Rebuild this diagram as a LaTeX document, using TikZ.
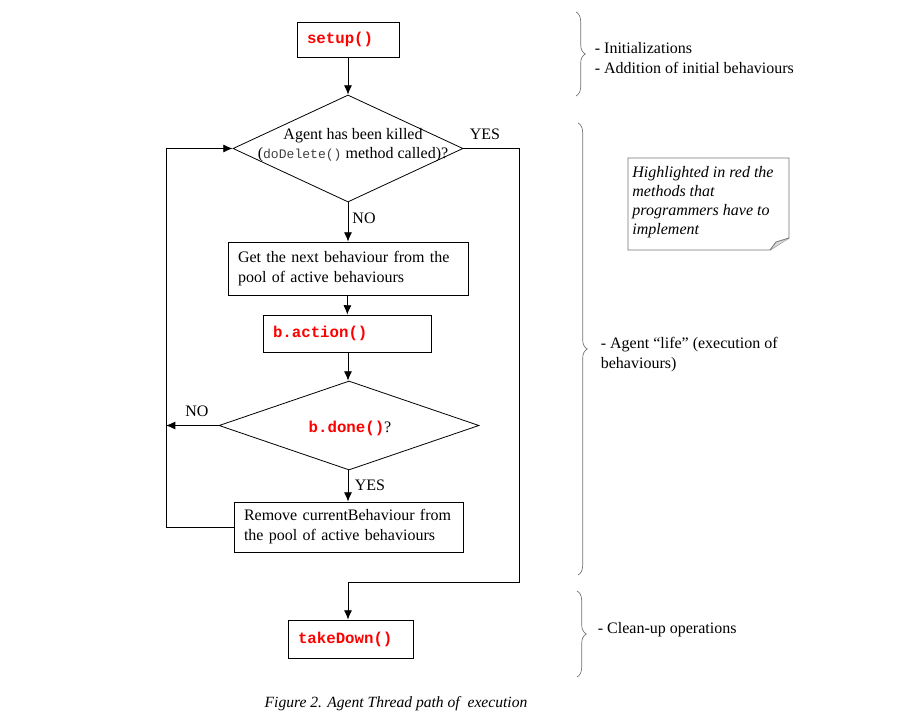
\documentclass[tikz,border=0pt]{standalone}
\usepackage{fontspec}
\setmainfont{Liberation Serif}
\setmonofont{Liberation Mono}
\usepackage{xcolor}
\usetikzlibrary{shapes.geometric,decorations.pathreplacing,arrows.meta}

\newcommand{\meth}[1]{{\fontsize{11.8}{15}\selectfont\ttfamily\bfseries\color{red}#1}}

\begin{document}
\begin{tikzpicture}[
  x=0.75pt, y=-0.75pt,
  line width=0.6pt,
  every node/.style={font=\fontsize{12}{15}\selectfont},
  box/.style={draw,rectangle,inner xsep=7.5pt,inner ysep=0pt,align=left},
  decision/.style={draw,diamond,inner sep=0pt},
  edge/.style={-{Latex[length=7pt,width=6pt]}},
  brace/.style={draw=black!55,line width=0.5pt,decorate,decoration={brace,amplitude=7pt}},
  side/.style={anchor=west,align=left}
]
\useasboundingbox (0,0) rectangle (900,724);

% flow chart
\node[box,text width=61.5pt,minimum height=26.25pt] (setup) at (348,39.5) {\meth{setup()}};
\node[decision,minimum width=172.5pt,minimum height=80.25pt] (kill) at (348,148.5) {};
\node[align=center] (killtxt) at (353,145) {Agent has been killed\\[-1pt]
  ({\fontsize{9.8}{12}\selectfont\ttfamily\color{black!75}doDelete()} method called)?};
\node[box,text width=165pt,minimum height=39.75pt] (next) at (348,268.5)
  {Get the next behaviour from the\\pool of active behaviours};
\node[box,text width=111pt,minimum height=27.75pt] (action) at (347,333.5) {\meth{b.action()}};
\node[decision,minimum width=195pt,minimum height=66.75pt] (done) at (349,425.5) {};
\node (donetxt) at (350,428) {\meth{b.done()}?};
\node[box,text width=156.75pt,minimum height=37.5pt] (remove) at (348.5,527)
  {Remove currentBehaviour from\\the pool of active behaviours};
\node[box,text width=78.75pt,minimum height=28.5pt] (takedown) at (350.5,639) {\meth{takeDown()}};

\coordinate (loopL) at (166,148.5);
\coordinate (yesR) at (519,582);

\draw[edge] (setup) -- (kill);
\draw[edge] (kill) -- (next);
\draw[edge] (next) -- (action);
\draw[edge] (action.south -| setup) -- (done.north -| setup);
\draw[edge] (done.south -| setup) -- (remove.north -| setup);
\draw[edge] (done.west) -- (done.west -| loopL);
\draw[edge] (remove.west) -| (loopL) -- (kill.west);
\draw[edge] (kill.east) -| (yesR) -| (takedown.north -| setup);

\node (yes1) at (485,134) {YES};
\node (no1) at (364,218) {NO};
\node (no2) at (197,411) {NO};
\node (yes2) at (370,485) {YES};

% phases
\draw[brace] (576,12) -- (576,96);
\draw[brace] (578,123) -- (578,575);
\draw[brace] (577,591) -- (577,677);
\node[side] (init) at (590,58) {- Initializations\\- Addition of initial behaviours};
\node[side] (life) at (596,355) {- Agent ``life'' (execution of\\behaviours)};
\node[side] (clean) at (593,630) {- Clean-up operations};

% note
\draw[black!55] (628,158) -- (789,158) -- (789,238) -- (770,250) -- (628,250) -- cycle;
\draw[black!55,fill=black!15] (770,250) -- (776,242) -- (789,238);
\node[anchor=north west,align=left,inner sep=0pt,font=\fontsize{12}{14.25}\selectfont\itshape] (note) at (632,166)
  {Highlighted in red the\\methods that\\programmers have to\\implement};

\node[font=\fontsize{11.7}{14}\selectfont\itshape] (caption) at (396,704) {Figure 2. Agent Thread path of\ \ execution};
\end{tikzpicture}
\end{document}
